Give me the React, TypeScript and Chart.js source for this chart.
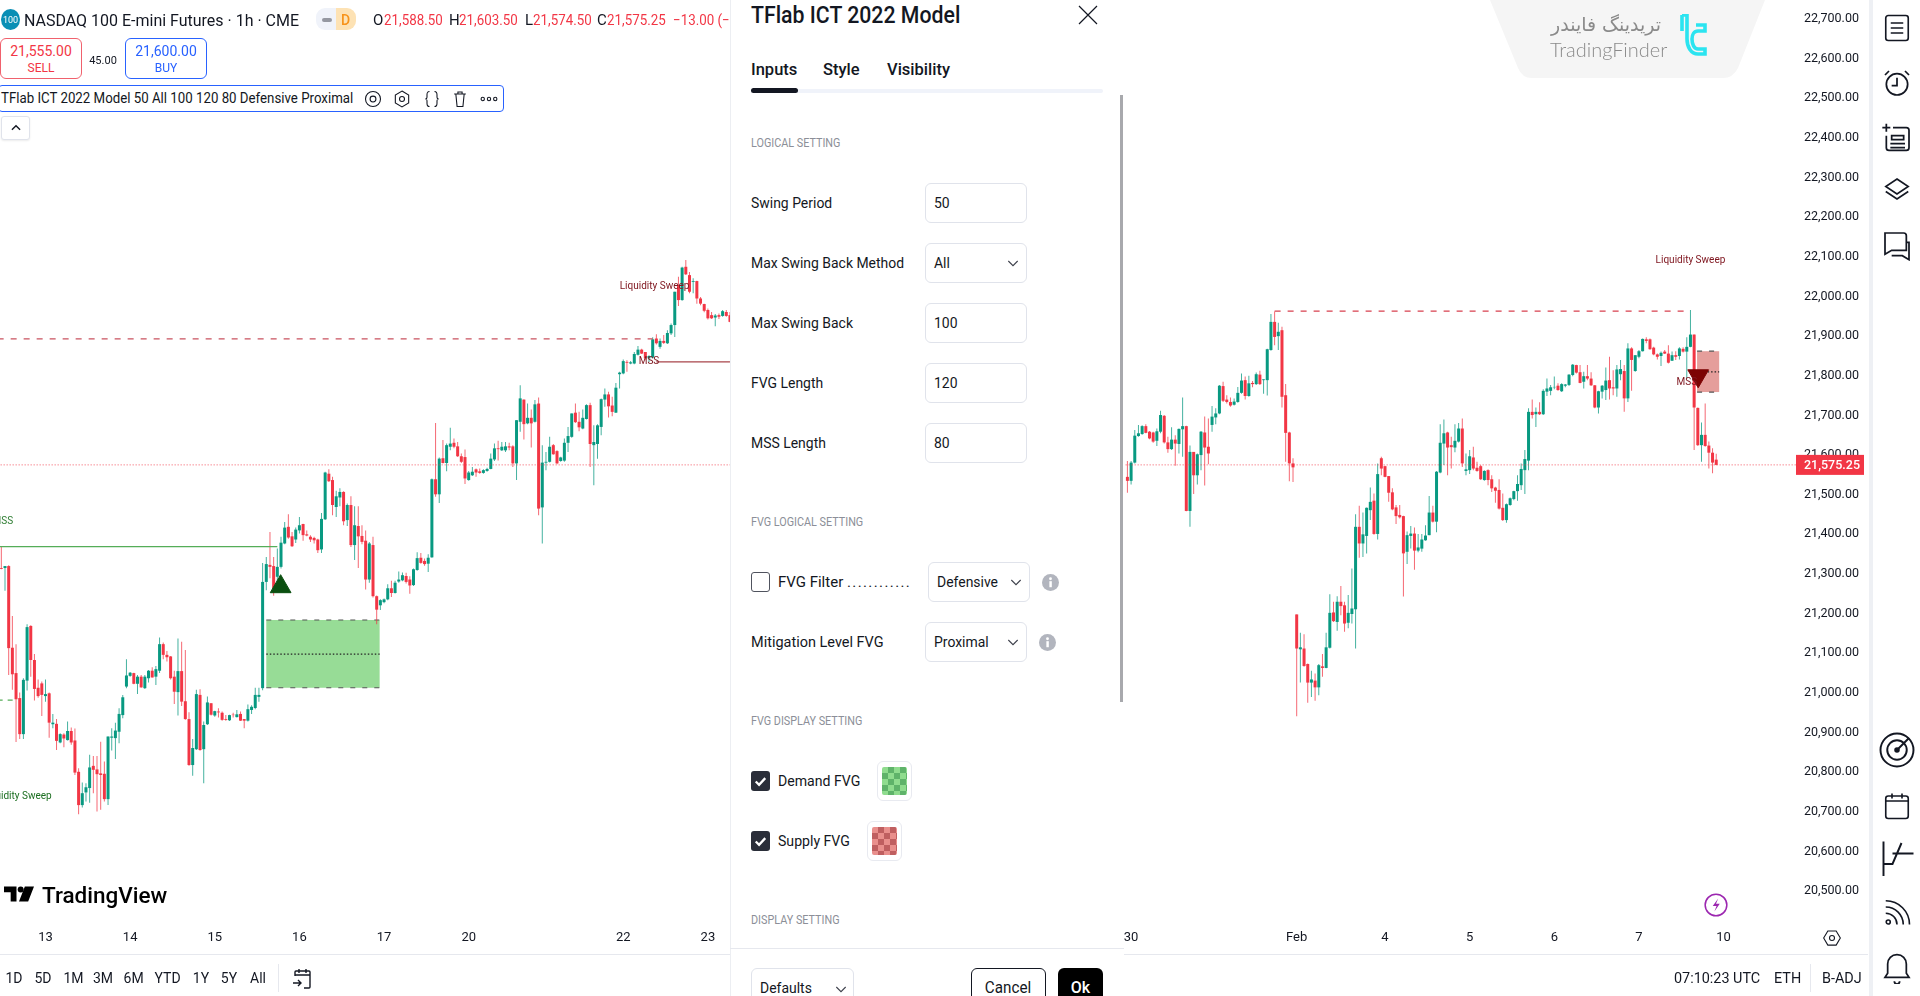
import React, { useEffect, useRef } from "react";
import { Chart, registerables } from "chart.js";

Chart.register(...registerables);

// candles are [open, high, low, close]
const jan13to15 = [
  [21315,21369,21312,21313],[21315,21320,21258,21320],[21320,21322,21045,21113],[21114,21194,21008,21047],[21050,21123,20876,20984],[20987,21001,20884,20896],
  [20896,21037,20884,21033],[21031,21173,21006,21166],[21169,21171,21041,21083],[21083,21098,20981,21010],[21013,21034,20988,20992],[21024,21029,20942,20995],
  [20992,21034,20978,20997],[20999,21001,20887,20925],[20921,20947,20911,20925],[20922,20934,20856,20879],[20875,20898,20873,20896],[20895,20898,20863,20885],
  [20881,20928,20880,20904],[20904,20913,20869,20875],[20880,20910,20793,20799],[20801,20810,20694,20717],[20717,20774,20711,20747],[20749,20772,20726,20762],
  [20760,20844,20723,20812],[20816,20841,20747,20806],[20807,20841,20701,20795],[20797,20877,20705,20793],[20796,20827,20726,20732],[20732,20890,20717,20890],
  [20887,20911,20855,20890],[20886,20925,20833,20905],[20902,20961,20873,20947],[20944,20995,20936,20989],[21016,21085,21012,21044],[21043,21053,21041,21051],
  [21050,21051,21022,21023],[21023,21045,20997,21041],[21041,21045,21013,21014],[21012,21045,21010,21041],[21037,21058,21026,21056],[21056,21065,21039,21039],
  [21041,21068,21020,21060],[21056,21140,21050,21123],[21123,21127,21085,21096],[21096,21106,21079,21090],[21092,21093,21034,21037],[21041,21056,20972,21003],
  [21002,21137,20943,21055],[21055,21129,20967,20978],[20979,21108,20932,20934],[20934,20951,20816,20818],[20818,20884,20791,20861],[20858,21008,20856,20997],
  [20995,21009,20854,20856],[20858,20928,20772,20919],[20921,20991,20919,20976],[20974,20974,20943,20945],[20943,20955,20940,20954],[20953,20961,20938,20951],
  [20950,20953,20930,20932],[20934,20944,20930,20932],[20931,20945,20929,20944],[20945,20950,20938,20944],[20939,20957,20938,20946],[20947,20953,20929,20930],
  [20934,20934,20911,20930],[20930,20971,20928,20959],
];
const jan15to20 = [
  [20957,20969,20947,20965],[20962,21013,20959,20995],[20990,21013,20978,20995],[21012,21328,21007,21280],[21280,21343,21259,21325],[21323,21406,21289,21318],
  [21320,21343,21245,21263],[21293,21364,21276,21318],[21318,21394,21314,21379],[21377,21431,21375,21417],[21419,21451,21389,21392],[21395,21406,21368,21370],
  [21387,21417,21378,21412],[21410,21444,21402,21423],[21426,21427,21384,21398],[21400,21410,21395,21397],[21394,21398,21381,21387],[21391,21394,21377,21385],
  [21387,21389,21353,21360],[21362,21454,21353,21439],[21438,21558,21436,21556],[21553,21564,21532,21534],[21537,21545,21448,21474],[21469,21510,21444,21496],
  [21493,21516,21471,21507],[21507,21509,21423,21433],[21436,21478,21421,21474],[21474,21496,21368,21373],[21373,21471,21335,21423],[21421,21471,21315,21395],
  [21396,21423,21375,21381],[21384,21410,21261,21286],[21286,21381,21278,21377],[21373,21394,21241,21244],[21244,21246,21173,21210],[21221,21236,21209,21234],
  [21229,21238,21226,21236],[21236,21274,21234,21264],[21264,21283,21242,21252],[21252,21283,21251,21278],[21281,21306,21278,21286],[21284,21304,21282,21297],
  [21295,21303,21276,21280],[21286,21294,21250,21271],[21272,21314,21270,21312],[21310,21355,21308,21340],[21341,21353,21326,21328],[21333,21339,21321,21325],
  [21326,21350,21305,21341],[21342,21541,21341,21539],[21539,21681,21495,21501],[21501,21594,21479,21591],[21592,21638,21579,21580],[21580,21629,21559,21625],
  [21621,21669,21612,21629],[21631,21642,21617,21621],[21622,21633,21595,21597],[21597,21604,21580,21583],[21595,21614,21527,21541],[21537,21560,21535,21556],
  [21549,21570,21547,21558],[21564,21566,21545,21556],[21559,21566,21553,21555],[21555,21564,21553,21562],[21560,21568,21558,21565],[21565,21604,21564,21591],
  [21589,21629,21585,21617],
];
const jan20to23 = [
  [21617,21636,21586,21615],[21612,21633,21610,21621],[21612,21633,21608,21622],[21622,21631,21612,21619],[21622,21625,21570,21579],[21579,21688,21537,21688],
  [21684,21776,21659,21743],[21740,21740,21639,21678],[21680,21730,21678,21694],[21694,21715,21619,21680],[21684,21739,21682,21728],[21730,21745,21448,21465],
  [21468,21625,21377,21581],[21581,21608,21562,21583],[21583,21646,21581,21621],[21625,21628,21601,21602],[21610,21612,21577,21579],[21585,21596,21583,21594],
  [21586,21642,21583,21631],[21631,21671,21608,21648],[21646,21705,21644,21705],[21707,21730,21681,21683],[21684,21709,21660,21670],[21667,21715,21665,21694],
  [21691,21728,21690,21726],[21726,21732,21570,21628],[21625,21675,21524,21633],[21628,21678,21591,21675],[21671,21743,21650,21741],[21740,21768,21722,21753],
  [21753,21760,21695,21723],[21725,21747,21698,21709],[21707,21782,21706,21770],[21804,21810,21768,21808],[21806,21841,21804,21837],[21835,21839,21810,21833],
  [21831,21837,21829,21834],[21831,21860,21829,21855],[21853,21875,21851,21866],[21866,21868,21855,21856],[21860,21860,21839,21844],[21844,21852,21835,21850],
  [21846,21897,21844,21892],[21894,21905,21879,21882],[21873,21894,21868,21888],[21888,21903,21880,21883],[21882,21915,21880,21908],[21907,21932,21903,21928],
  [21928,22012,21898,22012],[22029,22050,21976,21991],[21991,22075,21989,22073],[22075,22092,22054,22056],[22054,22062,22008,22012],[22037,22046,22008,22039],
  [22039,22040,21982,21995],[21995,21999,21978,21982],[21981,21982,21960,21964],[21966,21970,21942,21945],[21953,21961,21943,21945],[21947,21956,21925,21952],
  [21953,21957,21943,21949],[21951,21966,21949,21963],[21961,21966,21949,21951],[21953,21961,21935,21936],
];
const jan30to31 = [
  [21545,21585,21505,21535],[21535,21585,21526,21581],[21581,21663,21579,21649],[21648,21676,21646,21655],[21653,21675,21651,21673],[21673,21678,21655,21656],
  [21659,21661,21640,21642],[21657,21659,21631,21634],[21636,21667,21623,21660],[21659,21712,21655,21701],[21699,21701,21629,21632],[21632,21646,21606,21615],
  [21615,21670,21613,21639],[21639,21650,21573,21629],[21628,21667,21604,21666],[21665,21745,21596,21673],[21673,21674,21458,21459],[21459,21624,21419,21608],
  [21608,21608,21502,21549],[21549,21604,21526,21602],[21600,21661,21562,21659],[21657,21697,21523,21619],[21621,21692,21577,21604],[21676,21724,21659,21697],
  [21695,21718,21678,21705],[21705,21777,21703,21775],[21774,21785,21734,21737],[21740,21751,21730,21734],[21734,21745,21722,21725],[21727,21743,21725,21735],
  [21734,21772,21732,21757],[21757,21806,21755,21788],[21789,21798,21740,21749],[21749,21800,21747,21781],[21782,21787,21771,21779],[21779,21808,21777,21804],
  [21803,21813,21777,21779],[21789,21791,21755,21791],[21789,21868,21750,21867],[21865,21956,21863,21936],[21936,21962,21877,21898],[21900,21934,21865,21911],
  [21915,21924,21720,21747],[21751,21779,21583,21656],[21657,21659,21534,21579],[21579,21592,21532,21569],
];
const feb2to5 = [
  [21198,21198,20941,21112],[21110,21152,21026,21115],[21112,21148,21066,21068],[21073,21074,20975,21026],[21026,21056,20990,21034],[21031,21049,20980,21014],
  [21014,21073,20994,21070],[21067,21098,21041,21063],[21063,21152,21062,21115],[21114,21249,21112,21202],[21203,21230,21179,21181],[21179,21244,21157,21230],
  [21230,21270,21196,21219],[21221,21230,21154,21175],[21177,21247,21163,21202],[21199,21314,21175,21213],[21211,21451,21112,21419],[21419,21472,21341,21377],
  [21377,21455,21343,21400],[21396,21468,21352,21467],[21461,21518,21436,21482],[21485,21503,21399,21401],[21401,21579,21387,21552],[21592,21596,21549,21566],
  [21572,21573,21544,21545],[21547,21547,21482,21505],[21506,21516,21461,21463],[21468,21474,21426,21446],[21449,21474,21440,21443],[21446,21447,21243,21352],
  [21356,21407,21325,21398],[21396,21421,21364,21402],[21402,21417,21311,21359],[21359,21401,21355,21367],[21364,21401,21356,21387],[21385,21423,21384,21397],
  [21398,21497,21398,21455],[21455,21472,21430,21432],[21432,21560,21405,21558],[21556,21678,21554,21631],[21629,21690,21575,21655],[21657,21659,21549,21619],
  [21625,21646,21566,21620],[21619,21678,21607,21636],[21634,21681,21632,21667],[21667,21692,21570,21579],[21560,21604,21549,21564],[21562,21613,21552,21597],
  [21594,21621,21562,21566],[21568,21583,21558,21560],[21572,21575,21537,21539],[21537,21562,21535,21560],[21562,21564,21524,21537],[21539,21549,21507,21516],
  [21518,21520,21480,21510],[21512,21539,21463,21465],[21467,21503,21434,21436],[21436,21478,21429,21476],[21474,21493,21472,21491],[21489,21510,21486,21509],
];
const feb6to7 = [
  [21509,21549,21485,21527],[21524,21579,21512,21565],[21562,21613,21502,21590],[21586,21718,21562,21709],[21709,21740,21692,21701],[21703,21720,21671,21709],
  [21709,21733,21701,21703],[21703,21766,21701,21762],[21760,21793,21749,21768],[21762,21777,21751,21771],[21771,21798,21766,21772],[21775,21781,21762,21764],
  [21761,21781,21759,21779],[21775,21779,21771,21778],[21777,21804,21774,21803],[21802,21830,21799,21828],[21827,21828,21806,21808],[21809,21827,21781,21782],
  [21785,21810,21768,21799],[21799,21827,21789,21793],[21793,21809,21774,21776],[21776,21777,21718,21720],[21720,21762,21705,21761],[21760,21777,21743,21775],
  [21764,21821,21739,21788],[21789,21848,21740,21768],[21771,21814,21751,21768],[21768,21827,21747,21816],[21804,21840,21789,21817],[21812,21827,21709,21743],
  [21743,21882,21734,21869],[21869,21872,21762,21840],[21812,21852,21810,21852],[21848,21865,21844,21862],[21862,21894,21861,21893],[21892,21897,21882,21888],
  [21892,21894,21866,21867],[21871,21873,21852,21854],[21854,21856,21841,21848],[21850,21861,21825,21858],[21861,21865,21855,21856],[21856,21877,21831,21833],
  [21838,21861,21837,21852],[21852,21862,21840,21848],[21850,21872,21841,21869],[21868,21872,21859,21861],[21861,21897,21793,21873],[21873,21966,21872,21904],
  [21904,21904,21613,21720],[21719,21720,21623,21625],[21625,21682,21583,21651],[21651,21730,21621,21623],[21624,21634,21566,21606],[21606,21617,21554,21581],
  [21588.5,21603.5,21574.5,21575.25],
];

// the settings dialog hides the bars between the two visible stretches
const leftBarCount = jan13to15.length + jan15to20.length + jan20to23.length;
const hiddenBars = 107;
const lastPrice = 21575.25;

const dayTicks = [12, 35, 58, 81, 104, 127, 169, 192, 307, 352, 376, 399, 422, 445, 468];
const dayLabels = ["13", "14", "15", "16", "17", "20", "22", "23", "30", "Feb", "4", "5", "6", "7", "10"];
const priceTicks = [20500, 20600, 20700, 20800, 20900, 21000, 21100, 21200, 21300, 21400, 21500, 21600, 21700, 21800, 21900, 22000, 22100, 22200, 22300, 22400, 22500, 22600, 22700];

const sweepHighLeft = [[-1, 21893], [177, 21893]];
const sweepHighRight = [[346, 21963], [459, 21963]];
const mssLineRed = [[178, 21835], [198, 21835]];
const mssLineGreen = [[-1, 21369], [75, 21369]];
const sweepLowLeft = [[-1, 20982], [3.5, 20982]];
const demandFvg = { from: 72, to: 102.8, top: 21184, mid: 21098, bottom: 21013 };
const supplyFvg = { from: 460.8, to: 466.8, top: 21862, mid: 21810, bottom: 21759 };
const demandArrow = [[75.9, 21268]];
const supplyArrow = [[461.1, 21800]];
const chartLabels = [
  { text: "MSS", bar: 0.4, price: 21432, color: "#2e7d32" },
  { text: "Liquidity Sweep", bar: 4.2, price: 20738, color: "#1b6e20" },
  { text: "Liquidity Sweep", bar: 177.5, price: 22025, color: "#801922" },
  { text: "MSS", bar: 176, price: 21835, color: "#801922" },
  { text: "Liquidity Sweep", bar: 459, price: 22090, color: "#801922" },
  { text: "MSS", bar: 458, price: 21782, color: "#801922" },
];

const UP = "#089981";
const DOWN = "#f23645";
const UI_FONT = "Roboto, sans-serif";
const INK = "#131722";

const allCandles = [...jan13to15, ...jan15to20, ...jan20to23, ...jan30to31, ...feb2to5, ...feb6to7];
const barIndex = (i: number) => (i < leftBarCount ? i : i + hiddenBars);
const toPoints = (rows: number[][]) => rows.map(([x, y]) => ({ x, y }));

const fmtPrice = (v: number) =>
  v.toLocaleString("en-US", { minimumFractionDigits: 2, maximumFractionDigits: 2 });

const overlayPlugin = {
  id: "overlay",
  beforeDatasetsDraw(chart: any) {
    const { ctx, scales } = chart;
    const drawBox = (box: typeof demandFvg, fill: string) => {
      const x0 = scales.x.getPixelForValue(box.from);
      const x1 = scales.x.getPixelForValue(box.to);
      const top = scales.y.getPixelForValue(box.top);
      const bottom = scales.y.getPixelForValue(box.bottom);
      const mid = scales.y.getPixelForValue(box.mid);
      ctx.save();
      ctx.fillStyle = fill;
      ctx.fillRect(x0, top, x1 - x0, bottom - top);
      ctx.strokeStyle = "#555";
      ctx.lineWidth = 1.2;
      ctx.setLineDash([5, 7]);
      [top, bottom].forEach((y) => {
        ctx.beginPath();
        ctx.moveTo(x0, y);
        ctx.lineTo(x1, y);
        ctx.stroke();
      });
      ctx.strokeStyle = "#222";
      ctx.setLineDash([1.5, 2]);
      ctx.beginPath();
      ctx.moveTo(x0, mid);
      ctx.lineTo(x1, mid);
      ctx.stroke();
      ctx.restore();
    };
    drawBox(demandFvg, "#97dc96");
    drawBox(supplyFvg, "#e59e9b");
  },
  afterDatasetsDraw(chart: any) {
    const { ctx, scales } = chart;
    ctx.save();
    ctx.textAlign = "center";
    ctx.textBaseline = "middle";
    ctx.font = `10px ${UI_FONT}`;
    chartLabels.forEach((l) => {
      ctx.fillStyle = l.color;
      ctx.fillText(l.text, scales.x.getPixelForValue(l.bar), scales.y.getPixelForValue(l.price));
    });
    ctx.restore();
  },
  afterDraw(chart: any) {
    const { ctx, scales, chartArea } = chart;
    const y = scales.y.getPixelForValue(lastPrice);
    ctx.save();
    ctx.fillStyle = DOWN;
    ctx.fillRect(chartArea.right, y - 10, 68, 20);
    ctx.fillStyle = "#fff";
    ctx.font = `500 12.5px ${UI_FONT}`;
    ctx.textAlign = "left";
    ctx.textBaseline = "middle";
    ctx.fillText(fmtPrice(lastPrice), chartArea.right + 8, y + 0.5);
    ctx.restore();
  },
};

const CandleChart = () => {
  const ref = useRef<HTMLCanvasElement>(null);

  useEffect(() => {
    if (!ref.current) return;
    const line = (rows: number[][], color: string, dash: number[], width = 1.2) => ({
      type: "line",
      data: toPoints(rows),
      borderColor: color,
      borderWidth: width,
      borderDash: dash,
      pointRadius: 0,
      order: 1,
    });
    const arrow = (rows: number[][], color: string, rotation: number) => ({
      type: "scatter",
      data: toPoints(rows),
      pointStyle: "triangle",
      pointRadius: 12,
      rotation,
      backgroundColor: color,
      borderColor: color,
      order: 0,
    });
    const colours = allCandles.map(([o, , , c]) => (c >= o ? UP : DOWN));

    const chart = new Chart(ref.current, {
      type: "bar",
      data: {
        datasets: [
          {
            data: allCandles.map(([, h, l], i) => ({ x: barIndex(i), y: [l, h] })),
            backgroundColor: colours.map((c) => c + "c0"),
            barThickness: 1,
            grouped: false,
            inflateAmount: 0,
            order: 3,
          },
          {
            data: allCandles.map(([o, , , c], i) => ({ x: barIndex(i), y: [Math.min(o, c), Math.max(o, c)] })),
            backgroundColor: colours,
            barThickness: 3,
            grouped: false,
            inflateAmount: 0,
            order: 2,
          },
          line([[-1, lastPrice], [488, lastPrice]], "rgba(242,54,69,0.85)", [1, 2], 1),
          line(sweepHighLeft, "#c9525f", [6, 7]),
          line(sweepHighRight, "#d8404f", [6, 7]),
          line(mssLineRed, "#a8444a", []),
          line(mssLineGreen, "#55ad58", []),
          line(sweepLowLeft, "#55ad58", [5, 5]),
          arrow(demandArrow, "#0b4f10", 0),
          arrow(supplyArrow, "#7d0303", 180),
        ] as any,
      },
      options: {
        responsive: false,
        animation: false,
        devicePixelRatio: 1,
        layout: { autoPadding: false, padding: { right: 48, bottom: 42 } },
        plugins: { legend: { display: false }, tooltip: { enabled: false } },
        scales: {
          x: {
            type: "linear",
            offset: false,
            min: -0.36,
            max: 487.68,
            grid: { display: false, drawTicks: false, offset: false },
            border: { display: false },
            afterBuildTicks: (scale: any) => {
              scale.ticks = dayTicks.map((value) => ({ value }));
            },
            afterFit: (scale: any) => {
              scale.height = 28;
              scale.paddingLeft = 0;
              scale.paddingRight = 0;
            },
            ticks: {
              autoSkip: false,
              maxRotation: 0,
              padding: 4,
              color: INK,
              font: { family: "Roboto", size: 13 },
              callback: (_v: any, i: number) => dayLabels[i],
            },
          },
          y: {
            position: "right",
            offset: false,
            min: 20412,
            max: 22748,
            grid: { display: false, drawTicks: false },
            border: { display: false },
            afterBuildTicks: (scale: any) => {
              scale.ticks = priceTicks.map((value) => ({ value }));
            },
            afterFit: (scale: any) => {
              scale.width = 76;
              scale.paddingTop = 0;
              scale.paddingBottom = 0;
            },
            ticks: {
              autoSkip: false,
              padding: 8,
              color: INK,
              font: { family: "Roboto", size: 12.5 },
              callback: (v: any) => fmtPrice(Number(v)),
            },
          },
        },
      } as any,
      plugins: [overlayPlugin],
    });

    return () => {
      chart.destroy();
    };
  }, []);

  return <canvas ref={ref} width={1920} height={996} style={{ position: "absolute", left: 0, top: 0 }} />;
};

// plain text placed by its left edge and vertical centre, sx squeezes it sideways
const T = ({ x, y, size = 15, color = INK, weight = 400, family = UI_FONT, children, center, sx = 1 }: any) => (
  <div
    style={{
      position: "absolute",
      left: x,
      top: y,
      transform: `${center ? "translate(-50%,-50%)" : "translateY(-50%)"} scaleX(${sx})`,
      transformOrigin: center ? "center" : "left center",
      fontFamily: family,
      fontSize: size,
      fontWeight: weight,
      color,
      whiteSpace: "nowrap",
      lineHeight: 1,
    }}
  >
    {children}
  </div>
);

const Icon = ({ x, y, size = 26, color = INK, width = 1.3, children }: any) => (
  <svg
    viewBox="0 0 24 24"
    width={size}
    height={size}
    fill="none"
    stroke={color}
    strokeWidth={width}
    style={{ position: "absolute", left: x - size / 2, top: y - size / 2 }}
  >
    {children}
  </svg>
);

const Chevron = ({ x, y, color = "#3c3f4a" }: any) => (
  <Icon x={x} y={y} size={16} color={color} width={1.6}>
    <path d="M5 9l7 7 7-7" />
  </Icon>
);

const Field = ({ x, y, w = 102, text, select, sx = 0.93 }: any) => (
  <>
    <div
      style={{
        position: "absolute",
        left: x,
        top: y - 20,
        width: w,
        height: 40,
        boxSizing: "border-box",
        border: "1.5px solid #e0e3eb",
        borderRadius: 6,
      }}
    />
    <T x={x + 9} y={y} size={15} sx={sx}>
      {text}
    </T>
    {select && <Chevron x={x + w - 14} y={y} />}
  </>
);

const Check = ({ y, on }: any) => (
  <div
    style={{
      position: "absolute",
      left: 751,
      top: y - 10,
      width: 19,
      height: 20,
      boxSizing: "border-box",
      borderRadius: 3,
      background: on ? "#2a2e39" : "#fff",
      border: on ? "none" : "1.5px solid #50535e",
    }}
  >
    {on && (
      <svg viewBox="0 0 20 20" width={19} height={20} fill="none" stroke="#fff" strokeWidth={2.4}>
        <path d="M5 10.5l3.5 3.5L15 7" />
      </svg>
    )}
  </div>
);

const Swatch = ({ x, y, dark, light }: any) => (
  <div
    style={{
      position: "absolute",
      left: x,
      top: y - 20,
      width: 35,
      height: 40,
      boxSizing: "border-box",
      border: "1.5px solid #e8eaf0",
      borderRadius: 6,
    }}
  >
    <div
      style={{
        position: "absolute",
        left: 4,
        top: 5,
        width: 25,
        height: 28,
        borderRadius: 2,
        background: `repeating-conic-gradient(${dark} 0 25%, ${light} 0 50%)`,
        backgroundSize: "12px 12px",
      }}
    />
  </div>
);

const Info = ({ x, y }: any) => (
  <svg viewBox="0 0 18 18" width={17} height={17} style={{ position: "absolute", left: x - 8.5, top: y - 8.5 }}>
    <circle cx="9" cy="9" r="9" fill="#b2b5be" />
    <rect x="7.8" y="7.6" width="2.6" height="6.4" fill="#fff" />
    <circle cx="9" cy="5" r="1.5" fill="#fff" />
  </svg>
);

const Section = ({ y, children }: any) => (
  <T x={751} y={y} size={12} color="#8c8f98" sx={0.9}>
    {children}
  </T>
);

const SettingsDialog = () => (
  <div style={{ position: "absolute", left: 730, top: 0, width: 394, height: 996, background: "#fff", borderLeft: "1px solid #eceef2", boxSizing: "border-box", overflow: "hidden" }} />
);

const DialogContent = () => (
  <>
    <T x={751} y={15} size={23} weight={500} sx={0.925}>TFlab ICT 2022 Model</T>
    <Icon x={1088} y={15} size={24} width={1.2}>
      <path d="M3 3l18 18M21 3L3 21" />
    </Icon>
    <T x={751} y={70} size={16.5} weight={500}>Inputs</T>
    <T x={823} y={70} size={16.5} weight={500}>Style</T>
    <T x={887} y={70} size={16.5} weight={500}>Visibility</T>
    <div style={{ position: "absolute", left: 751, top: 89, width: 352, height: 4, background: "#f0f3fa", borderRadius: 2 }} />
    <div style={{ position: "absolute", left: 751, top: 88, width: 47, height: 5, background: INK, borderRadius: 3 }} />
    <div style={{ position: "absolute", left: 1119.5, top: 95, width: 3, height: 607, background: "#a8a9ad" }} />

    <Section y={143}>LOGICAL SETTING</Section>
    <T x={751} y={203} sx={0.93}>Swing Period</T>
    <Field x={925} y={203} text="50" />
    <T x={751} y={263} sx={0.93}>Max Swing Back Method</T>
    <Field x={925} y={263} text="All" select />
    <T x={751} y={323} sx={0.93}>Max Swing Back</T>
    <Field x={925} y={323} text="100" />
    <T x={751} y={383} sx={0.93}>FVG Length</T>
    <Field x={925} y={383} text="120" />
    <T x={751} y={443} sx={0.93}>MSS Length</T>
    <Field x={925} y={443} text="80" />

    <Section y={522}>FVG LOGICAL SETTING</Section>
    <Check y={582} />
    <T x={778} y={582}>FVG Filter <span style={{ letterSpacing: 1.4 }}>............</span></T>
    <Field x={928} y={582} text="Defensive" select />
    <Info x={1050} y={582} />
    <T x={751} y={642} sx={0.965}>Mitigation Level FVG</T>
    <Field x={925} y={642} text="Proximal" select />
    <Info x={1047} y={642} />

    <Section y={721}>FVG DISPLAY SETTING</Section>
    <Check y={781} on />
    <T x={778} y={781} sx={0.94}>Demand FVG</T>
    <Swatch x={877} y={781} dark="#5fb36a" light="#8fdc8e" />
    <Check y={841} on />
    <T x={778} y={841} sx={0.94}>Supply FVG</T>
    <Swatch x={867} y={841} dark="#bf5f60" light="#e98f8c" />
    <Section y={920}>DISPLAY SETTING</Section>

    <div style={{ position: "absolute", left: 730, top: 948, width: 394, height: 1, background: "#e6e8ee" }} />
    <div style={{ position: "absolute", left: 751, top: 968, width: 103, height: 40, boxSizing: "border-box", border: "1.5px solid #e0e3eb", borderRadius: 6 }} />
    <T x={760} y={988} sx={0.93}>Defaults</T>
    <Chevron x={841} y={989} />
    <div style={{ position: "absolute", left: 971, top: 968, width: 75, height: 40, boxSizing: "border-box", border: "1.5px solid #131722", borderRadius: 6 }} />
    <T x={1008} y={988} center size={16} sx={0.95}>Cancel</T>
    <div style={{ position: "absolute", left: 1058, top: 968, width: 45, height: 40, background: "#000", borderRadius: 6 }} />
    <T x={1080.5} y={988} center size={16} color="#fff" weight={500}>Ok</T>
  </>
);

const Header = () => (
  <>
    <div style={{ position: "absolute", left: 1, top: 9, width: 19, height: 21, borderRadius: "50%", background: "#0a8fb5" }} />
    <T x={10.5} y={19.5} center size={9} color="#fff">100</T>
    <T x={24} y={20} size={17} sx={0.94}>NASDAQ 100 E-mini Futures · 1h · CME</T>
    <div style={{ position: "absolute", left: 316, top: 8, width: 20, height: 22, background: "#f0f3fa", borderRadius: "9px 0 0 9px" }} />
    <div style={{ position: "absolute", left: 336, top: 8, width: 20, height: 22, background: "#fde2b4", borderRadius: "0 9px 9px 0" }} />
    <div style={{ position: "absolute", left: 322, top: 18, width: 10, height: 3.5, background: "#9598a1", borderRadius: 2 }} />
    <T x={345.5} y={19.5} center size={14} color="#f7931a" weight={500}>D</T>
    <T x={373} y={20} size={15}>O</T>
    <T x={384} y={20} size={15} color={DOWN} sx={0.89}>21,588.50</T>
    <T x={449} y={20} size={15}>H</T>
    <T x={459} y={20} size={15} color={DOWN} sx={0.89}>21,603.50</T>
    <T x={525} y={20} size={15}>L</T>
    <T x={533} y={20} size={15} color={DOWN} sx={0.89}>21,574.50</T>
    <T x={597} y={20} size={15}>C</T>
    <T x={607} y={20} size={15} color={DOWN} sx={0.89}>21,575.25</T>
    <T x={673} y={20} size={15} color={DOWN} sx={0.89}>−13.00 (−0.06%)</T>

    <div style={{ position: "absolute", left: 0, top: 38, width: 82, height: 41, boxSizing: "border-box", border: "1.5px solid #f0616d", borderRadius: 6, background: "#fff" }} />
    <T x={41} y={51} center size={14} color={DOWN}>21,555.00</T>
    <T x={41} y={68} center size={12} color={DOWN}>SELL</T>
    <T x={103} y={60} center size={11}>45.00</T>
    <div style={{ position: "absolute", left: 125, top: 38, width: 82, height: 41, boxSizing: "border-box", border: "1.5px solid #2962ff", borderRadius: 6, background: "#fff" }} />
    <T x={166} y={51} center size={14} color="#2962ff">21,600.00</T>
    <T x={166} y={68} center size={12} color="#2962ff">BUY</T>

    <div style={{ position: "absolute", left: -2, top: 85, width: 506, height: 27, boxSizing: "border-box", border: "1.5px solid #2962ff", borderRadius: 4, background: "#fff" }} />
    <T x={1} y={99} size={14.5} sx={0.915}>TFlab ICT 2022 Model 50 All 100 120 80 Defensive Proximal</T>
    <Icon x={373} y={99} size={20}>
      <path d="M12 3c5 0 9 4 9 9s-4 9-9 9-9-4-9-9 4-9 9-9z" />
      <circle cx="12" cy="12" r="3.5" />
    </Icon>
    <Icon x={402} y={99} size={20}>
      <path d="M12 2.5l8 4.7v9.6l-8 4.7-8-4.7V7.2z" />
      <circle cx="12" cy="12" r="3" />
    </Icon>
    <Icon x={431.5} y={99} size={20}>
      <path d="M9 3c-3 0-3 2-3 4v3c0 1-1 2-2 2 1 0 2 1 2 2v3c0 2 0 4 3 4M15 3c3 0 3 2 3 4v3c0 1 1 2 2 2-1 0-2 1-2 2v3c0 2 0 4-3 4" />
    </Icon>
    <Icon x={460} y={99} size={20}>
      <path d="M5 6h14M9.5 6V3.5h5V6M7 6l1.5 15h7L17 6" />
    </Icon>
    <Icon x={489} y={99} size={20}>
      <circle cx="4.5" cy="12" r="2" />
      <circle cx="12" cy="12" r="2" />
      <circle cx="19.5" cy="12" r="2" />
    </Icon>
    <div style={{ position: "absolute", left: 1, top: 116, width: 29, height: 24, boxSizing: "border-box", border: "1px solid #e0e3eb", borderRadius: 3, background: "#fff", boxShadow: "0 1px 2px rgba(0,0,0,.08)" }} />
    <Icon x={16} y={128} size={14} width={2.4}>
      <path d="M5 15l7-7 7 7" />
    </Icon>

    <svg viewBox="0 0 36 18" width={30} height={18} style={{ position: "absolute", left: 4, top: 885 }}>
      <path d="M0 0h15v18H8V7H0zM25 0h11l-7 18H18z" fill="#000" />
      <circle cx="20" cy="3.6" r="3.6" fill="#000" />
    </svg>
    <T x={42} y={895} size={22.5} weight={500} color="#000">TradingView</T>
  </>
);

const BottomBar = () => (
  <>
    <div style={{ position: "absolute", left: 0, top: 954, width: 1868, height: 1, background: "#e6e8ee" }} />
    {[
      ["1D", 14], ["5D", 43], ["1M", 73.5], ["3M", 103], ["6M", 133.6], ["YTD", 167.6], ["1Y", 201], ["5Y", 229], ["All", 258],
    ].map(([label, x]) => (
      <T key={label as string} x={x} y={978} center size={14}>{label}</T>
    ))}
    <div style={{ position: "absolute", left: 278, top: 964, width: 1, height: 28, background: "#e6e8ee" }} />
    <Icon x={302} y={978} size={24} width={1.4}>
      <path d="M5 10V6a1 1 0 011-1h13a1 1 0 011 1v15a1 1 0 01-1 1h-5M5 9h15M9 3v4M16 3v4M3 17h8M8 14l3 3-3 3" />
    </Icon>
    <T x={1674} y={978} size={15} sx={0.96}>07:10:23 UTC</T>
    <T x={1774} y={978} size={15} sx={0.96}>ETH</T>
    <div style={{ position: "absolute", left: 1810, top: 964, width: 1, height: 28, background: "#e6e8ee" }} />
    <T x={1822} y={978} size={15} sx={0.96}>B-ADJ</T>
    <Icon x={1832} y={938} size={20}>
      <path d="M7 3.5h10l5 8.5-5 8.5H7L2 12z" />
      <circle cx="12" cy="12" r="3" />
    </Icon>
    <Icon x={1716} y={905} size={26} color="#9c27b0" width={1.4}>
      <circle cx="12" cy="12" r="10" />
      <path d="M14 6l-5 7h3.5L10.5 18l5-7.2H12z" fill="#9c27b0" stroke="none" />
    </Icon>
  </>
);

const RightRail = () => (
  <>
    <div style={{ position: "absolute", left: 1869, top: 0, width: 4, height: 996, background: "#eef0f4" }} />
    <Icon x={1897} y={28} size={30}>
      <rect x="3" y="2" width="18" height="20" rx="2" />
      <path d="M7 8h10M7 12h10M7 16h10" />
    </Icon>
    <Icon x={1897} y={83} size={32}>
      <circle cx="12" cy="13" r="8" />
      <path d="M12 8v6h-4M3 6l3-3M21 6l-3-3" />
    </Icon>
    <Icon x={1897} y={137} size={32}>
      <path d="M1 5h6M4 2v6M9 5h10a2 2 0 012 2v13a2 2 0 01-2 2H6a2 2 0 01-2-2v-9M8 11h9v3H8zM7 17h11M7 20h11" />
    </Icon>
    <Icon x={1897} y={189} size={30}>
      <path d="M12 4l9 6-9 6-9-6zM3 14l9 6 9-6" />
    </Icon>
    <Icon x={1897} y={245} size={32}>
      <path d="M3 3h14a2 2 0 012 2v11H8l-5 3zM19 10h2v13l-5-3H8" />
    </Icon>
    <Icon x={1897} y={750} size={36}>
      <circle cx="12" cy="12" r="11" />
      <circle cx="12" cy="12" r="6.5" />
      <circle cx="12" cy="12" r="1.2" fill={INK} />
      <path d="M12 12l8-8" />
    </Icon>
    <Icon x={1897} y={806} size={30}>
      <rect x="3" y="4" width="18" height="18" rx="2" />
      <path d="M3 8h18M8 2v4M16 2v4" />
    </Icon>
    <Icon x={1897} y={858} size={36}>
      <path d="M3 1v23M3 16h6l6-14M9 9h14" />
    </Icon>
    <Icon x={1897} y={912} size={30}>
      <circle cx="5" cy="20" r="1.6" />
      <path d="M3 13a9 9 0 019 9M3 8a14 14 0 0114 14M3 3a19 19 0 0119 19" />
    </Icon>
    <Icon x={1897} y={968} size={32}>
      <path d="M12 2c-4 0-7 3-7 7v7l-2 3h18l-2-3V9c0-4-3-7-7-7zM10 22a2 2 0 004 0" />
    </Icon>
  </>
);

const Watermark = () => (
  <>
    <svg width={276} height={79} style={{ position: "absolute", left: 1490, top: 0 }}>
      <path d="M0 0H275L248 68Q243 78 233 78H42Q32 78 28 68Z" fill="#f5f5f5" />
    </svg>
    <T x={1551} y={24} size={19} color="#8a8a8a" family="'DejaVu Sans'">تریدینگ فایندر</T>
    <T x={1550} y={49} size={20} color="#8a8a8a" family="Lato, sans-serif" weight={300}>TradingFinder</T>
    <svg viewBox="0 0 27 42" width={27} height={42} fill="none" stroke="#2be4f0" strokeWidth={3.6} style={{ position: "absolute", left: 1680, top: 14 }}>
      <path d="M2 1v16M2 1h5v24c0 8 4 15 11 15h7v-5h-7c-4 0-6-5-6-10 0-4 2-8 6-8h7v-6H16" />
    </svg>
  </>
);

const App = () => (
  <div style={{ position: "fixed", left: 0, top: 0, width: 1920, height: 996, background: "#fff", overflow: "hidden" }}>
    <CandleChart />
    <Watermark />
    <Header />
    <BottomBar />
    <RightRail />
    <SettingsDialog />
    <DialogContent />
  </div>
);

export default App;
